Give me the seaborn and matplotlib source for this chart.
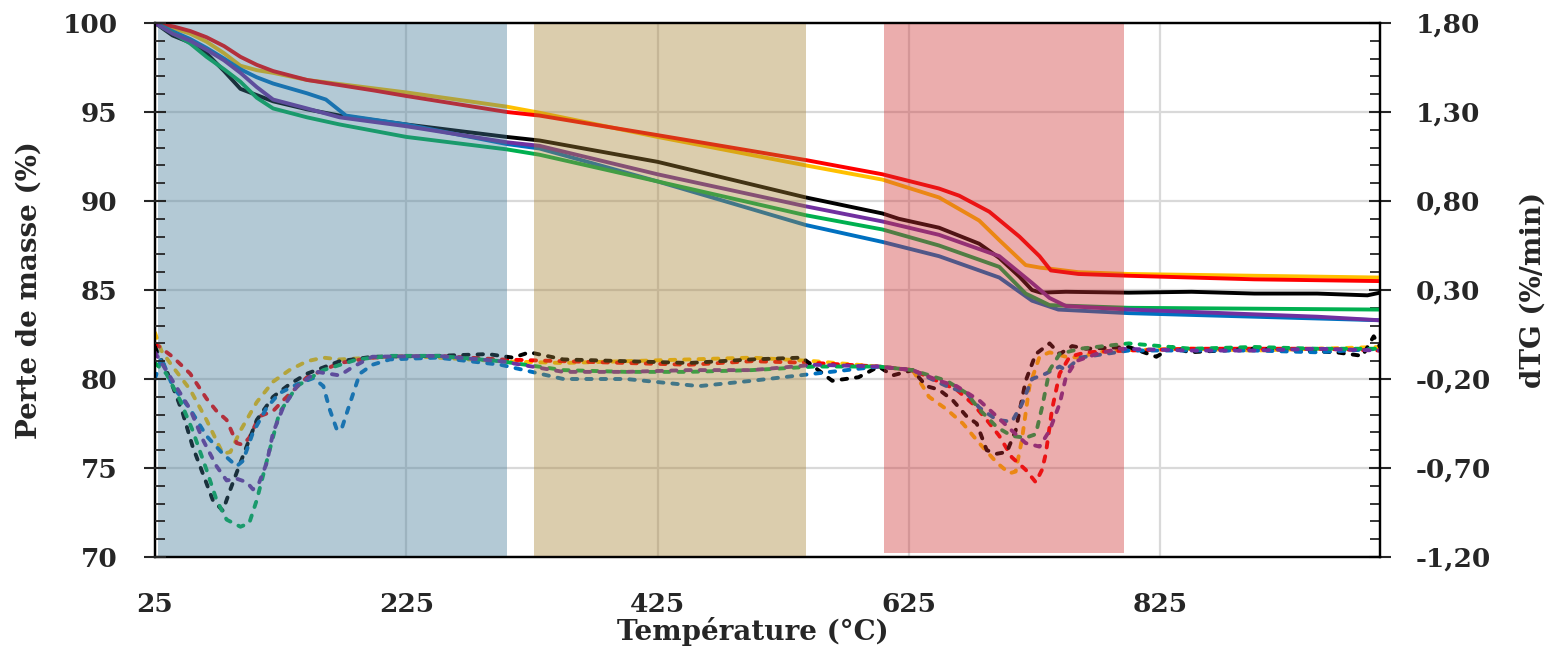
import numpy as np
import pandas as pd
import matplotlib.pyplot as plt
import seaborn as sns
from matplotlib.ticker import MultipleLocator, FixedLocator

# --- TG (perte de masse, %) ---
t_tg_rouge = [25, 40, 53, 66, 80, 93, 106, 119, 146, 200, 225, 305, 331, 425, 543, 604, 649, 665, 689, 713, 729, 738, 760, 800, 900, 1000]
tg_rouge = [100, 99.8, 99.55, 99.2, 98.7, 98.1, 97.65, 97.3, 96.8, 96.2, 95.9, 95.0, 94.8, 93.7, 92.3, 91.5, 90.7, 90.3, 89.4, 88.0, 86.9, 86.1, 85.9, 85.8, 85.6, 85.5]

t_tg_jaune = [25, 40, 53, 66, 80, 93, 106, 119, 146, 225, 305, 331, 425, 543, 604, 649, 681, 697, 718, 730, 737, 760, 800, 900, 1000]
tg_jaune = [100, 99.7, 99.4, 98.95, 98.3, 97.6, 97.35, 97.2, 96.8, 96.1, 95.3, 94.96, 93.6, 92.0, 91.2, 90.2, 88.9, 87.8, 86.4, 86.25, 86.2, 86.0, 85.9, 85.8, 85.7]

t_tg_noir = [25, 39, 53, 66, 80, 93, 106, 119, 146, 172, 225, 305, 331, 425, 543, 604, 617, 649, 681, 697, 713, 723, 730, 750, 800, 850, 900, 950, 990, 1000]
tg_noir = [100, 99.3, 98.9, 98.3, 97.3, 96.3, 95.95, 95.6, 95.15, 94.8, 94.3, 93.6, 93.4, 92.2, 90.2, 89.3, 89.0, 88.5, 87.6, 86.8, 85.75, 85.0, 84.85, 84.9, 84.85, 84.9, 84.8, 84.8, 84.7, 84.85]

t_tg_vert = [25, 40, 53, 66, 80, 93, 106, 119, 146, 172, 225, 305, 331, 425, 543, 604, 649, 697, 718, 737, 800, 1000]
tg_vert = [100, 99.4, 98.85, 98.1, 97.4, 96.7, 95.8, 95.2, 94.7, 94.3, 93.6, 92.9, 92.6, 91.1, 89.2, 88.4, 87.5, 86.3, 84.8, 84.15, 84.0, 83.9]

t_tg_violet = [25, 39, 53, 66, 80, 93, 106, 119, 146, 172, 225, 305, 331, 425, 543, 604, 649, 697, 723, 737, 750, 800, 950, 1000]
tg_violet = [100, 99.4, 99.0, 98.5, 97.9, 97.2, 96.4, 95.7, 95.2, 94.7, 94.2, 93.3, 93.1, 91.5, 89.7, 88.85, 88.1, 86.9, 85.4, 84.55, 84.1, 83.9, 83.5, 83.3]

t_tg_bleu = [25, 40, 53, 66, 80, 93, 106, 119, 146, 161, 177, 225, 305, 331, 425, 543, 604, 649, 697, 723, 744, 800, 1000]
tg_bleu = [100, 99.5, 99.1, 98.6, 98.0, 97.4, 96.95, 96.6, 96.05, 95.7, 94.8, 94.3, 93.2, 92.95, 91.1, 88.65, 87.7, 86.9, 85.7, 84.4, 83.9, 83.7, 83.3]

# --- dTG (%/min) ---
t_d_rouge = [25, 39, 53, 66, 74, 82, 90, 95, 100, 108, 119, 127, 146, 172, 198, 250, 300, 350, 400, 450, 500, 550, 601, 628, 641, 663, 676, 687, 697, 707, 718, 726, 731, 734, 739, 745, 753, 766, 800, 850, 900, 950, 1000]
d_rouge = [0.0, -0.075, -0.17, -0.31, -0.38, -0.43, -0.56, -0.57, -0.53, -0.41, -0.38, -0.32, -0.19, -0.11, -0.08, -0.07, -0.09, -0.10, -0.11, -0.12, -0.10, -0.11, -0.13, -0.15, -0.19, -0.26, -0.34, -0.43, -0.52, -0.64, -0.71, -0.78, -0.71, -0.62, -0.37, -0.17, -0.075, -0.05, -0.04, -0.03, -0.03, -0.03, -0.04]

t_d_jaune = [25, 30, 39, 53, 66, 79, 85, 93, 106, 119, 132, 146, 159, 172, 225, 300, 350, 400, 450, 500, 550, 601, 628, 636, 641, 655, 668, 681, 695, 705, 710, 715, 721, 729, 737, 750, 761, 774, 787, 850, 900, 950, 1000]
d_jaune = [0.06, -0.04, -0.13, -0.26, -0.43, -0.62, -0.61, -0.49, -0.33, -0.215, -0.15, -0.10, -0.08, -0.09, -0.07, -0.10, -0.11, -0.10, -0.09, -0.08, -0.10, -0.13, -0.15, -0.24, -0.30, -0.37, -0.45, -0.56, -0.67, -0.73, -0.72, -0.54, -0.24, -0.075, -0.05, -0.075, -0.08, -0.05, -0.04, -0.03, -0.04, -0.03, -0.02]

t_d_noir = [25, 34, 39, 47, 55, 63, 71, 79, 85, 93, 106, 119, 132, 146, 172, 198, 250, 290, 310, 323, 350, 400, 450, 500, 540, 564, 585, 601, 612, 628, 639, 649, 660, 671, 679, 687, 695, 703, 710, 718, 726, 737, 745, 755, 766, 800, 822, 835, 848, 900, 965, 986, 995, 1000]
d_noir = [-0.02, -0.15, -0.24, -0.39, -0.58, -0.73, -0.88, -0.94, -0.82, -0.67, -0.43, -0.30, -0.23, -0.17, -0.10, -0.075, -0.07, -0.06, -0.08, -0.05, -0.09, -0.10, -0.11, -0.09, -0.08, -0.21, -0.19, -0.13, -0.18, -0.15, -0.24, -0.26, -0.32, -0.41, -0.45, -0.60, -0.62, -0.61, -0.49, -0.21, -0.06, 0.0, -0.06, -0.015, -0.03, -0.02, -0.075, -0.02, -0.05, -0.03, -0.05, -0.07, 0.04, -0.02]

t_d_vert = [25, 34, 45, 55, 66, 74, 82, 93, 100, 106, 114, 124, 138, 159, 186, 212, 250, 300, 350, 400, 450, 500, 550, 601, 628, 655, 671, 681, 695, 707, 718, 726, 731, 737, 745, 761, 800, 850, 900, 950, 1000]
d_vert = [-0.11, -0.17, -0.32, -0.49, -0.71, -0.88, -0.99, -1.03, -1.01, -0.88, -0.66, -0.39, -0.24, -0.15, -0.09, -0.07, -0.07, -0.10, -0.15, -0.16, -0.16, -0.15, -0.13, -0.13, -0.15, -0.21, -0.28, -0.37, -0.47, -0.52, -0.53, -0.51, -0.36, -0.15, -0.06, -0.03, 0.0, -0.03, -0.02, -0.03, -0.03]

t_d_violet = [25, 39, 53, 63, 74, 82, 90, 98, 103, 108, 114, 119, 127, 138, 154, 172, 183, 198, 250, 300, 350, 400, 450, 500, 550, 601, 628, 649, 663, 681, 695, 707, 718, 729, 737, 745, 750, 758, 774, 792, 850, 900, 950, 1000]
d_violet = [-0.05, -0.21, -0.37, -0.54, -0.69, -0.77, -0.76, -0.78, -0.82, -0.78, -0.67, -0.50, -0.36, -0.24, -0.16, -0.18, -0.13, -0.075, -0.07, -0.10, -0.16, -0.16, -0.15, -0.15, -0.12, -0.13, -0.15, -0.21, -0.24, -0.32, -0.41, -0.49, -0.56, -0.58, -0.49, -0.34, -0.19, -0.10, -0.06, -0.03, -0.04, -0.04, -0.03, -0.04]

t_d_bleu = [25, 30, 39, 53, 66, 79, 90, 95, 103, 114, 124, 138, 151, 159, 164, 170, 174, 180, 188, 198, 212, 250, 300, 350, 400, 458, 500, 550, 601, 628, 655, 671, 681, 695, 707, 715, 723, 734, 745, 750, 761, 800, 850, 900, 950, 1000]
d_bleu = [-0.20, -0.08, -0.24, -0.37, -0.52, -0.62, -0.69, -0.66, -0.50, -0.36, -0.28, -0.23, -0.195, -0.24, -0.37, -0.49, -0.47, -0.34, -0.17, -0.12, -0.09, -0.08, -0.12, -0.20, -0.20, -0.24, -0.21, -0.17, -0.13, -0.15, -0.24, -0.28, -0.36, -0.43, -0.44, -0.34, -0.20, -0.17, -0.13, -0.15, -0.08, -0.04, -0.04, -0.04, -0.05, -0.03]

couleurs = {"jaune": "#ffc000", "rouge": "#ff0000", "noir": "#000000",
            "bleu": "#0070c0", "vert": "#00b050", "violet": "#7030a0"}
ordre = ["jaune", "rouge", "noir", "bleu", "vert", "violet"]

tg_series = {"rouge": (t_tg_rouge, tg_rouge), "jaune": (t_tg_jaune, tg_jaune),
             "noir": (t_tg_noir, tg_noir), "vert": (t_tg_vert, tg_vert),
             "violet": (t_tg_violet, tg_violet), "bleu": (t_tg_bleu, tg_bleu)}
dtg_series = {"rouge": (t_d_rouge, d_rouge), "jaune": (t_d_jaune, d_jaune),
              "noir": (t_d_noir, d_noir), "vert": (t_d_vert, d_vert),
              "violet": (t_d_violet, d_violet), "bleu": (t_d_bleu, d_bleu)}

tg = pd.concat([pd.DataFrame({"T": t, "masse": m, "ech": k}) for k, (t, m) in tg_series.items()])
dtg = pd.concat([pd.DataFrame({"T": t, "dtg": d, "ech": k}) for k, (t, d) in dtg_series.items()])

# zones de décomposition
zones = [(27, 305, "#437a98", 0.0), (327, 543, "#a78234", 0.0), (605, 796, "#cd3234", 0.008)]

sns.set_style("white")
plt.rcParams["font.family"] = ["DejaVu Serif"]
plt.rcParams["font.weight"] = "bold"
plt.rcParams["axes.labelweight"] = "bold"

fig = plt.figure(figsize=(15.47, 6.5), dpi=100)
ax = fig.add_axes([155 / 1547, 1 - 557 / 650, 1225 / 1547, 534 / 650])
axd = ax.twinx()
ax.set_zorder(2)
axd.set_zorder(1)
ax.patch.set_visible(False)

# dTG en pointillés (axe de droite, en dessous)
sns.lineplot(data=dtg, x="T", y="dtg", hue="ech", hue_order=ordre, palette=couleurs,
             estimator=None, sort=False, legend=False, ax=axd,
             linewidth=2.8, linestyle=(0, (1.4, 2.3)), dash_capstyle="round")

# TG en trait plein
sns.lineplot(data=tg, x="T", y="masse", hue="ech", hue_order=ordre, palette=couleurs,
             estimator=None, sort=False, legend=False, ax=ax, linewidth=2.8)

for x0, x1, c, y0 in zones:
    ax.axvspan(x0, x1, ymin=y0, color=c, alpha=0.4, lw=0, zorder=2.2)

ax.set_xlim(25, 1000)
ax.set_ylim(70, 100)
axd.set_ylim(-1.2, 1.8)

ax.set_xticks([25, 225, 425, 625, 825])
ax.xaxis.set_minor_locator(FixedLocator(np.arange(65, 1000, 40)))
ax.set_yticks([70, 75, 80, 85, 90, 95, 100])
ax.yaxis.set_minor_locator(MultipleLocator(1))

dtg_ticks = [1.80, 1.30, 0.80, 0.30, -0.20, -0.70, -1.20]
axd.set_yticks(dtg_ticks)
axd.set_yticklabels([f"{v:.2f}".replace(".", ",") for v in dtg_ticks])
axd.yaxis.set_minor_locator(MultipleLocator(0.1))

# grille sur l'axe du dessous
axd.xaxis.set_visible(True)
axd.set_xlabel("")
axd.tick_params(axis="x", which="both", bottom=False, top=False, labelbottom=False, labeltop=False)
axd.grid(True, which="major", color="#d9d9d9", lw=1.6)
axd.set_axisbelow(True)
ax.set_axisbelow(False)

ax.tick_params(which="major", direction="inout", length=16, width=1.5, labelsize=19, pad=19)
ax.tick_params(axis="x", pad=17)
ax.tick_params(which="minor", direction="in", length=7, width=1.3)
ax.tick_params(which="both", right=False, top=False)
axd.tick_params(axis="y", which="major", direction="inout", length=16, width=1.5, labelsize=19, pad=18)
axd.tick_params(axis="y", which="minor", direction="in", length=7, width=1.3)

for a in (ax, axd):
    for sp in a.spines.values():
        sp.set_color("black")
        sp.set_linewidth(1.6)

ax.set_xlabel("Température (°C)", fontsize=20)
ax.xaxis.set_label_coords(0.488, -0.112)
ax.set_ylabel("Perte de masse (%)", fontsize=20)
ax.yaxis.set_label_coords(-0.092, 0.5)
axd.set_ylabel("dTG (%/min)", fontsize=20)
axd.yaxis.set_label_coords(1.114, 0.5)

fig.savefig("out.png", dpi=100)
